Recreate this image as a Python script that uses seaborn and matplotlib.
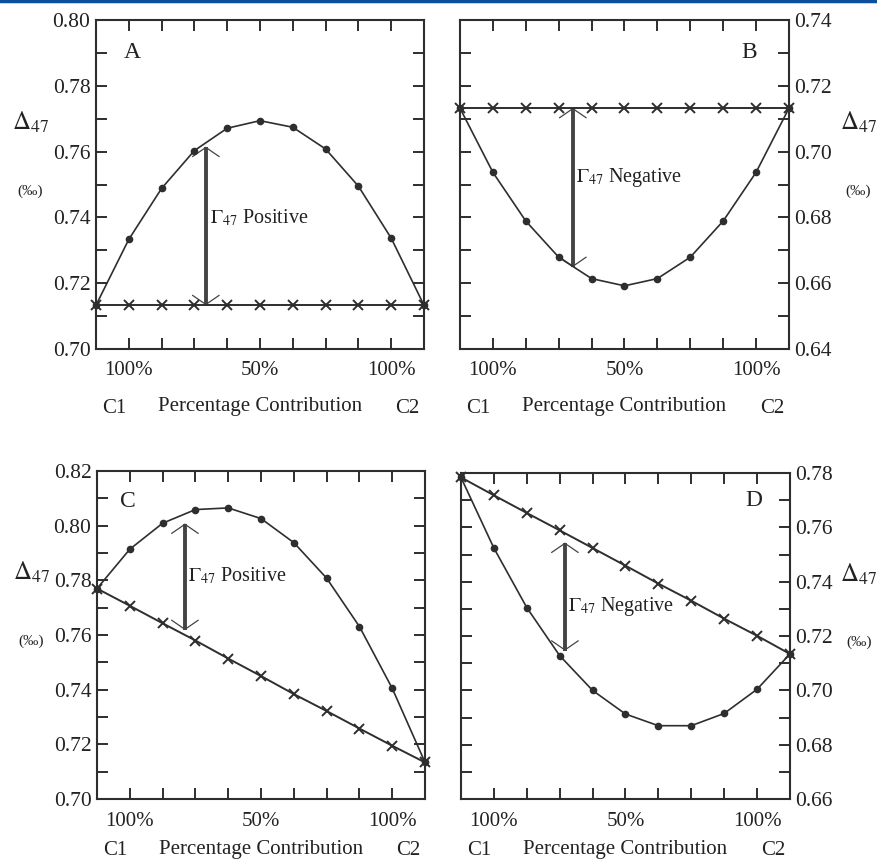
import numpy as np
import pandas as pd
import seaborn as sns
import matplotlib.pyplot as plt
from matplotlib.ticker import MultipleLocator, FixedLocator

sns.set_theme(style="ticks")
plt.rcParams['font.family'] = ['Liberation Serif', 'DejaVu Serif']
plt.rcParams['mathtext.fontset'] = 'stix'

# mixing steps: 0 = pure C1, 10 = pure C2
steps = list(range(11))

# panel A
a_mix = [0.7133, 0.7333, 0.7488, 0.7603, 0.7671, 0.7694, 0.7674, 0.7608, 0.7495, 0.7337, 0.7133]
a_lin = [0.7133] * 11
# panel B
b_mix = [0.7132, 0.6937, 0.6789, 0.6679, 0.6614, 0.6592, 0.6614, 0.6679, 0.6789, 0.6937, 0.7132]
b_lin = [0.7132] * 11
# panel C
c_mix = [0.7770, 0.7914, 0.8009, 0.8059, 0.8065, 0.8026, 0.7938, 0.7808, 0.7631, 0.7405, 0.7134]
c_lin = [0.7770, 0.7707, 0.7643, 0.7580, 0.7514, 0.7450, 0.7384, 0.7322, 0.7258, 0.7195, 0.7134]
# panel D
d_mix = [0.7784, 0.7524, 0.7305, 0.7128, 0.7000, 0.6913, 0.6870, 0.6870, 0.6915, 0.7004, 0.7134]
d_lin = [0.7784, 0.7718, 0.7653, 0.7589, 0.7524, 0.7459, 0.7393, 0.7330, 0.7264, 0.7201, 0.7134]

panels = [
    # letter, mix, linear, ylim, side, arrow x, arrow y0, y1, text x, text y, label text, letter pos
    ('A', a_mix, a_lin, (0.70, 0.80), 'left', 3.35, 0.7133, 0.7615, 3.47, 0.7397, 'Positive', (1.1, 0.790)),
    ('B', b_mix, b_lin, (0.64, 0.74), 'right', 3.43, 0.7133, 0.6649, 3.53, 0.6922, 'Negative', (8.8, 0.730)),
    ('C', c_mix, c_lin, (0.70, 0.82), 'left', 2.68, 0.8008, 0.7618, 2.78, 0.7816, 'Positive', (0.95, 0.809)),
    ('D', d_mix, d_lin, (0.66, 0.78), 'right', 3.16, 0.7544, 0.7146, 3.25, 0.7309, 'Negative', (8.9, 0.770)),
]

axes_pos = [
    [0.1093, 0.5970, 0.3736, 0.3799],
    [0.5239, 0.5970, 0.3747, 0.3799],
    [0.1105, 0.0773, 0.3736, 0.3788],
    [0.5250, 0.0773, 0.3747, 0.3765],
]
xlab_y = [-0.18, -0.18, -0.158, -0.158]

fig = plt.figure(figsize=(8.78, 8.66), dpi=100)
fig.add_artist(plt.Line2D([0, 1], [0.999, 0.999], color='#0b4f9e', lw=2.5, transform=fig.transFigure))

ink = '#2e2e2e'
for (letter, mix, lin, ylim, side, axx, ay0, ay1, tx, ty, word, lpos), pos, ly in zip(panels, axes_pos, xlab_y):
    ax = fig.add_axes(pos)
    df = pd.DataFrame({'step': steps, 'mix': mix, 'lin': lin})
    sns.lineplot(data=df, x='step', y='lin', ax=ax, color=ink, lw=1.4, marker='x',
                 markersize=6.5, markeredgewidth=1.4, markeredgecolor=ink, clip_on=False, zorder=4)
    sns.lineplot(data=df, x='step', y='mix', ax=ax, color=ink, lw=1.2, marker='o',
                 markersize=5.5, markeredgewidth=0, markerfacecolor=ink, clip_on=False, zorder=4)

    ax.set_xlim(0, 10)
    ax.set_ylim(*ylim)
    ax.xaxis.set_major_locator(FixedLocator([1, 2, 3, 4, 5, 6, 7, 8, 9]))
    ax.set_xticklabels(['100%', '', '', '', '50%', '', '', '', '100%'])
    ax.yaxis.set_major_locator(MultipleLocator(0.02))
    ax.yaxis.set_minor_locator(MultipleLocator(0.01))
    ax.yaxis.set_major_formatter(plt.FormatStrFormatter('%.2f'))
    ax.set_xlabel('')
    ax.set_ylabel('')

    for sp in ax.spines.values():
        sp.set_visible(True)
        sp.set_linewidth(1.5)
        sp.set_color(ink)
    ax.tick_params(axis='both', which='both', direction='in', length=8, width=1.4,
                   color=ink, top=True, bottom=True, left=True, right=True)
    ax.tick_params(axis='x', labelsize=15, pad=9, labelcolor='#222222')
    ax.tick_params(axis='y', labelsize=15.5, pad=4, labelcolor='#222222')
    if side == 'right':
        ax.tick_params(axis='y', labelleft=False, labelright=True)
        lx = 1.21
    else:
        lx = -0.20
    ax.text(lx, 0.69, r'$\Delta_{47}$', transform=ax.transAxes, fontsize=18,
            ha='center', va='center', color='#222222')
    ax.text(lx, 0.48, '(‰)', transform=ax.transAxes, fontsize=11,
            ha='center', va='center', color='#222222')

    ax.text(0.055, ly, 'C1', transform=ax.transAxes, fontsize=15, ha='center', va='center', color='#222222')
    ax.text(0.50, ly + 0.004, 'Percentage Contribution', transform=ax.transAxes, fontsize=15,
            ha='center', va='center', color='#222222')
    ax.text(0.95, ly, 'C2', transform=ax.transAxes, fontsize=15, ha='center', va='center', color='#222222')

    # gamma arrow
    ax.plot([axx, axx], [ay0, ay1], color='#444444', lw=2.8, solid_capstyle='butt', zorder=3)
    ax.annotate('', xy=(axx, ay1), xytext=(axx, ay0),
                arrowprops=dict(arrowstyle='<->,head_length=0.55,head_width=0.8',
                                color='#444444', lw=0.9, shrinkA=0, shrinkB=0))
    ax.text(tx, ty, r'$\Gamma_{47}$ ' + word, fontsize=14.5, ha='left', va='center', color='#222222')
    ax.text(lpos[0], lpos[1], letter, fontsize=17, ha='center', va='center', color='#222222')

fig.savefig('out.png', dpi=100)
